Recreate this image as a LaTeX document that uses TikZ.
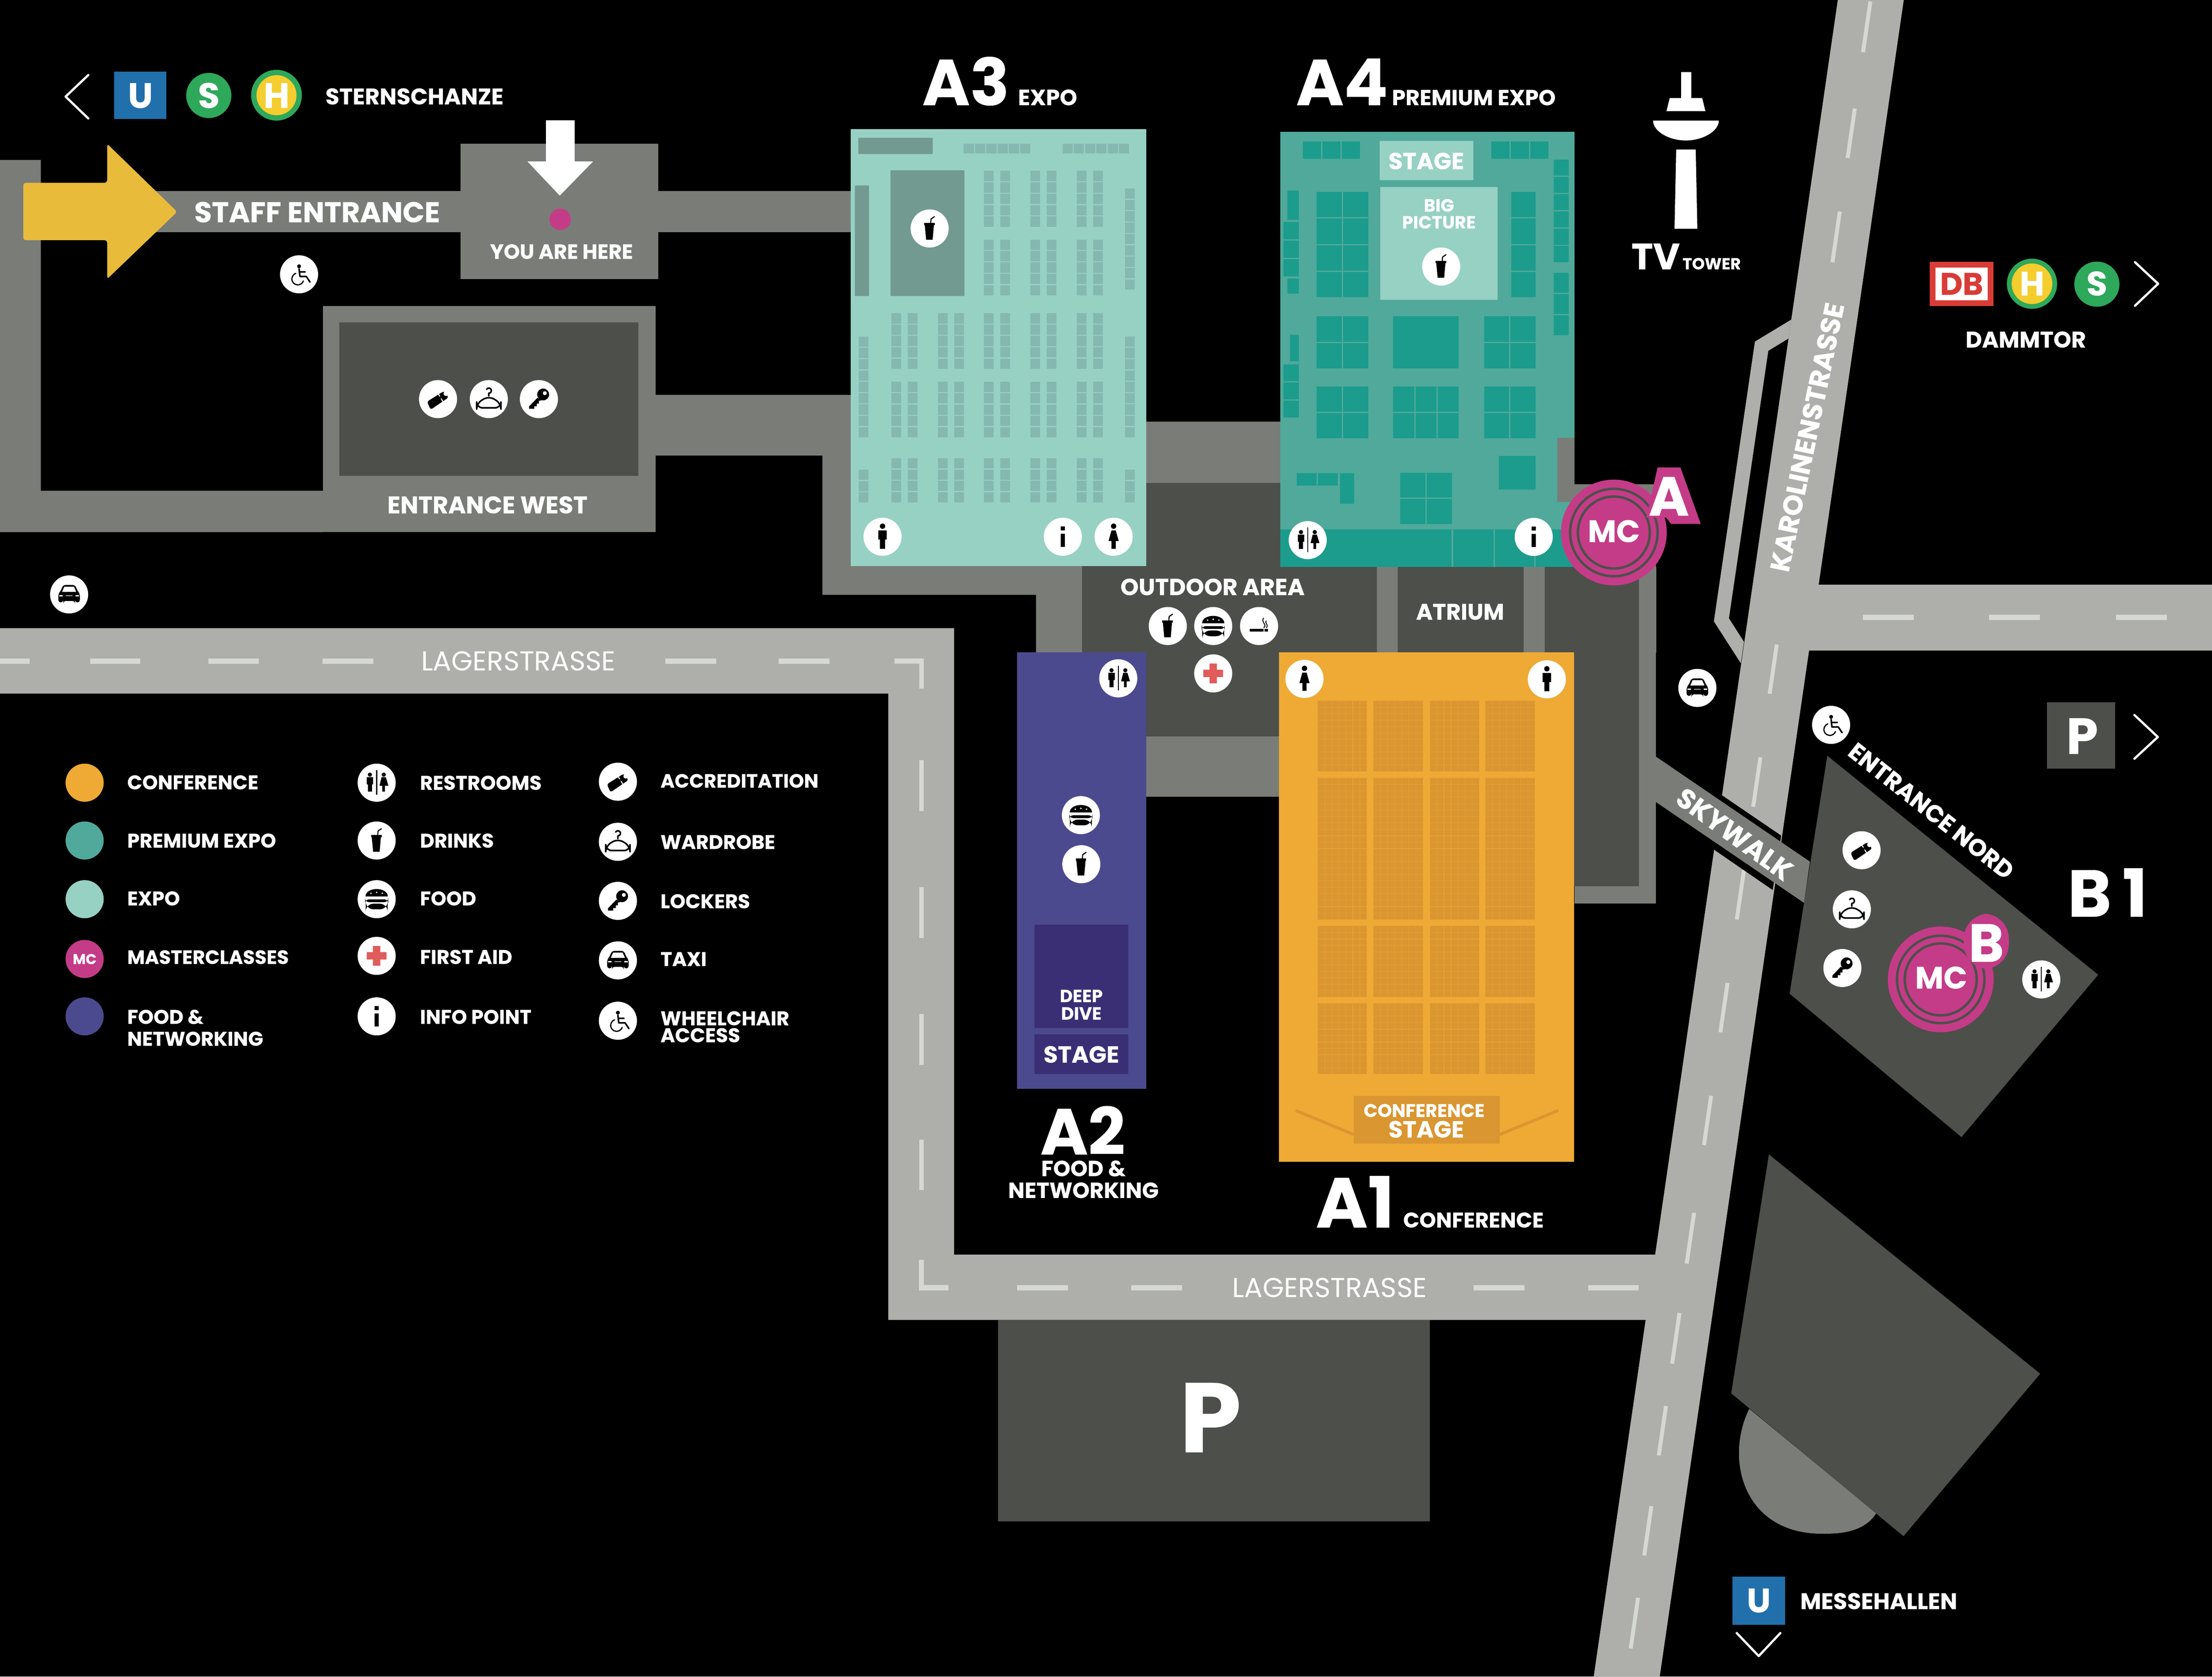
\documentclass[tikz,border=0pt]{standalone}
\usepackage{fontspec}
\setmainfont{Poppins}[BoldFeatures={FakeBold=0.3}]
\usetikzlibrary{positioning}
\definecolor{corridor}{HTML}{7A7C78}
\definecolor{hall}{HTML}{4D4F4B}
\definecolor{roadgray}{HTML}{AEAFAA}
\definecolor{roadline}{HTML}{D6D8D2}
\definecolor{confcol}{HTML}{EEAA35}
\definecolor{confdark}{HTML}{DA9630}
\definecolor{premcol}{HTML}{50A99A}
\definecolor{premdark}{HTML}{1C9C8C}
\definecolor{expocol}{HTML}{96D1C4}
\definecolor{expostand}{HTML}{85B9B0}
\definecolor{expodark}{HTML}{729A90}
\definecolor{foodcol}{HTML}{4C4A8E}
\definecolor{fooddark}{HTML}{3A2F75}
\definecolor{mccol}{HTML}{C43C87}
\definecolor{ubahn}{HTML}{2170AB}
\definecolor{sbahn}{HTML}{2EA85A}
\definecolor{hbahn}{HTML}{F5CD2E}
\definecolor{arrowcol}{HTML}{E8BB3B}
\definecolor{crosscol}{HTML}{E05C5A}
\definecolor{dbred}{HTML}{D93C36}
\newcommand{\pxf}[1]{\fontsize{\fpeval{#1*0.2845}}{\fpeval{#1*0.2845}}\selectfont}
% one block of stands, cut in cells
\newcommand{\cells}[7]{%
  \pgfmathsetmacro\cellw{#4/#6}\pgfmathsetmacro\cellh{#5/#7}
  \foreach \i in {1,...,#6}{\foreach \j in {1,...,#7}{
    \draw[#1] ({#2+(\i-1)*\cellw},{#3+(\j-1)*\cellh}) rectangle +(\cellw,\cellh);}}}
\tikzset{
  lbl/.style={text=white,inner sep=0pt,font=\bfseries\pxf{#1},anchor=base},
  lblw/.style={lbl=#1,anchor=base west},
  expocell/.style={fill=expostand,draw=expocol,line width=0.2pt},
  premcell/.style={fill=premdark,draw=premcol,line width=0.25pt},
  seatcell/.style={fill=confdark,draw=confcol!60!confdark,line width=0.1pt},
  chevron/.style={draw=white,line width=0.45pt,line cap=round,line join=round},
  rdash/.style={draw=roadline,line width=0.8pt},
  disc/.style={fill=white},
  ink/.style={fill=black},
  inkline/.style={draw=black,line width=0.22pt,line cap=round,line join=round},
  pics/manwc/.style={code={\fill[disc] (0,0) circle (13.5);
    \fill[ink] (0,-7.5) circle (1.9);
    \fill[ink] (-3,-4.5) -- (3,-4.5) -- (3,2) -- (1.8,2) -- (1.8,8.5) -- (-1.8,8.5) -- (-1.8,2) -- (-3,2) -- cycle;}},
  pics/womanwc/.style={code={\fill[disc] (0,0) circle (13.5);
    \fill[ink] (0,-7.5) circle (1.9);
    \fill[ink] (-1.5,-4.5) -- (1.5,-4.5) -- (3.6,3) -- (1.5,3) -- (1.5,8.5) -- (-1.5,8.5) -- (-1.5,3) -- (-3.6,3) -- cycle;}},
  pics/restroom/.style={code={\fill[disc] (0,0) circle (13.5);
    \fill[ink] (-4.8,-5.7) circle (1.5);
    \fill[ink] (-7,-3.9) -- (-2.5,-3.9) -- (-2.5,1.2) -- (-3.3,1.2) -- (-3.3,6.3) -- (-6.2,6.3) -- (-6.2,1.2) -- (-7,1.2) -- cycle;
    \draw[inkline] (0,-8.7) -- (0,8.3);
    \fill[ink] (5,-5.7) circle (1.5);
    \fill[ink] (3.5,-3.9) -- (6.5,-3.9) -- (8.3,2.1) -- (5.9,2.1) -- (5.9,6.3) -- (4,6.3) -- (4,2.1) -- (2,2.1) -- cycle;}},
  pics/drinks/.style={code={\fill[disc] (0,0) circle (13.5);
    \fill[ink] (-3.9,-4) rectangle (3.5,-2.5);
    \fill[ink] (-3.5,-2.5) -- (3,-2.5) -- (2.1,8) -- (-2.5,8) -- cycle;
    \draw[inkline] (0.75,-4) -- (1,-6.8) -- (3.4,-8.4);}},
  pics/food/.style={code={\fill[disc] (0,0) circle (13.5);
    \fill[ink] (-7.9,-1.9) .. controls (-7.9,-5.6) and (-3.5,-7.2) .. (0,-7.2) .. controls (3.5,-7.2) and (7.9,-5.6) .. (7.9,-1.9) -- cycle;
    \fill[disc] (-4,-4.2) circle (0.6) (0,-4.8) circle (0.6) (4,-4.2) circle (0.6);
    \fill[ink,rounded corners=0.8] (-8.2,0.1) rectangle (8.2,2.1);
    \fill[ink,rounded corners=1.6] (-7.8,3.2) rectangle (7.8,7.2);}},
  pics/firstaid/.style={code={\fill[disc] (0,0) circle (13.5);
    \fill[crosscol] (-2.6,-7) rectangle (2.6,7) (-7,-2.6) rectangle (7,2.6);}},
  pics/info/.style={code={\fill[disc] (0,0) circle (13.5);
    \fill[ink] (-1.5,-7.3) rectangle (1.5,-4.5) (-1.5,-2.1) rectangle (1.5,7.2);}},
  pics/accred/.style={code={\fill[disc] (0,0) circle (13.5);
    \fill[ink,rounded corners=0.4] (-7.8,1.8) -- (4.2,-5.7) -- (7.5,-1.2) -- (-5.25,7.5) -- cycle;
    \fill[disc] (5.6,-3.9) circle (1.7);
    \draw[disc,draw=white,line width=0.2pt,dashed,dash pattern=on 0.7pt off 0.5pt] (0,-4) -- (3.6,1.9);}},
  pics/wardrobe/.style={code={\fill[disc] (0,0) circle (13.5);
    \draw[inkline,line width=0.32pt,rounded corners=1.2] (0,-2.2) -- (8.6,2.9) -- (8.6,6.2) -- (-8.6,6.2) -- (-8.6,2.9) -- cycle;
    \draw[inkline,line width=0.32pt] (0,-2.2) -- (0,-4.2) arc[start angle=90,end angle=-150,radius=1.8];}},
  pics/lockers/.style={code={\fill[disc] (0,0) circle (13.5);
    \fill[ink] (3,-3.3) circle (4.2);
    \fill[ink] (-7,5.25) -- (-1,-1) -- (1.8,0.9) -- (0,1.2) -- (0,3.15) -- (-1.5,3.15) -- (-1.5,5.1) -- (-3.3,5.1) -- (-3.3,6.9) -- (-7,6.9) -- cycle;
    \fill[disc] (4.2,-4.2) circle (1.4);}},
  pics/taxi/.style={code={\fill[disc] (0,0) circle (13.5);
    \fill[ink,rounded corners=0.5] (-4.2,-6.75) -- (4.2,-6.75) -- (6.2,-2) -- (7.65,-0.5) -- (7.65,5.7) -- (4.2,5.7) -- (4.2,4.6) -- (-4.2,4.6) -- (-4.2,5.7) -- (-7.65,5.7) -- (-7.65,-0.5) -- (-6.2,-2) -- cycle;
    \fill[disc] (-3.4,-5.5) -- (3.4,-5.5) -- (5,-1.8) -- (-5,-1.8) -- cycle;
    \fill[disc] (-7,0.5) rectangle (-4.5,1.4) (4.5,0.5) rectangle (7,1.4) (-2.4,0.7) rectangle (2.4,1.1);}},
  pics/wheelchair/.style={code={\fill[disc] (0,0) circle (13.5);
    \fill[ink] (0,-5.7) circle (1.4);
    \draw[inkline,line width=0.32pt] (0,-3.9) -- (0.6,1.5) -- (5.1,1.5) -- (7.8,5.55) (0.2,-1.7) -- (4.35,-1.7);
    \draw[inkline,line width=0.25pt] (-2.34,-0.65) arc[start angle=-110,end angle=-340,radius=4.2];}},
  pics/smoking/.style={code={\fill[disc] (0,0) circle (13.5);
    \fill[ink] (-6.6,2.1) rectangle (3.2,3.9) (3.9,2.1) rectangle (6.3,3.9);
    \draw[inkline,line width=0.18pt] (3.4,1.2) .. controls (6,-1) and (1,-3) .. (3.2,-5.6);
    \draw[inkline,line width=0.18pt] (5.2,1.2) .. controls (7.2,-1) and (3.6,-2.2) .. (5,-3.6);}},
}
\begin{document}
\begin{tikzpicture}[x=0.01cm,y=-0.01cm]
\fill[black] (0,0) rectangle (1568,1188.9);
\useasboundingbox (0,0) rectangle (1568,1188.9);
% roads
\fill[roadgray] (0,445.4) -- (676.3,445.4) -- (676.3,889.6) -- (1190,889.6) -- (1190,936) -- (629.7,936) -- (629.7,491.8) -- (0,491.8) -- cycle;
\fill[roadgray] (1270,414.7) rectangle (1568,461.2);
\fill[roadgray] (1269.8,226.6) -- (1244,242.2) -- (1214.9,440.6) -- (1234,470.3) -- cycle;
\fill[black] (1267.9,240) -- (1253.5,248.8) -- (1225.6,438.4) -- (1236.4,455.3) -- cycle;
\fill[roadgray] (1302.75,0) -- (1349.5,0) -- (1176.5,1189) -- (1129.7,1189) -- cycle;
% road markings
\foreach \x/\xx in {0/21,64/99.5,147.6/183.6,228.6/264.6,471.6/507.6,552/588}
  \fill[roadline] (\x,466.9) rectangle (\xx,470.6);
\fill[roadline] (634,466.9) -- (654.8,466.9) -- (654.8,488.3) -- (651.6,488.3) -- (651.6,470.6) -- (634,470.6) -- cycle;
\foreach \y in {539,629,719,808}
  \fill[roadline] (651.6,\y) rectangle (654.8,\y+36);
\fill[roadline] (651.4,893.3) -- (654.9,893.3) -- (654.9,911.2) -- (672.3,911.2) -- (672.3,915) -- (651.4,915) -- cycle;
\foreach \x in {721,802,1044.7,1125.7}
  \fill[roadline] (\x,911.2) rectangle (\x+36,915);
\foreach \x in {1320.5,1409.9,1499.9}
  \fill[roadline] (\x,435.8) rectangle (\x+36,439.6);
\foreach \y/\yy in {1/37,77/112,150/186,457/492,537/572,617/652,697/732,777/812,860/896,931/967,997/1032,1068/1103,1133/1169}
  \draw[rdash] ({1326-0.1455*\y},\y) -- ({1326-0.1455*\yy},\yy);
% skywalk
\fill[black] (1220.6,563.9) -- (1262.6,592.5) -- (1256.6,631.1) -- (1214.6,602.2) -- cycle;
\fill[corridor] (1173.8,536.5) -- (1283,611) -- (1278.8,640.2) -- (1173.8,568.7) -- cycle;
% corridors
\fill[corridor] (0,113.4) rectangle (29,377.4) (0,348) rectangle (229,377.4);
\fill[corridor] (29,135.4) rectangle (604,164.5);
\fill[corridor] (326.6,102) rectangle (466.5,198);
\fill[corridor] (228.8,217) rectangle (464.6,377.4);
\fill[corridor] (464,280) rectangle (604,323) (583,280) rectangle (604,421.7);
\fill[corridor] (583,400) rectangle (767,421.7) (734.4,400) rectangle (767,463);
\fill[corridor] (812,299) rectangle (908,343) (812,522) rectangle (907,565);
\fill[corridor] (975,402) rectangle (1174,463);
\fill[corridor] (1116,343.5) rectangle (1173.8,640.6);
% halls
\fill[hall] (240.4,228.6) rectangle (452.6,337.5);
\fill[hall] (767,401) rectangle (976,463) (812,342.5) rectangle (908,402) (812,462) rectangle (907,522);
\fill[hall] (990.8,402) rectangle (1080,463) (1095,402) rectangle (1161.8,628.5) (1116,357) rectangle (1161.8,402);
\fill[hall] (1295.3,535.9) -- (1487.3,691.2) -- (1390.4,806.3) -- (1268.6,704.6) -- cycle;
\fill[hall] (707.6,936) rectangle (1013.7,1078.8);
\fill[corridor] (1240,999) .. controls (1222,1035) and (1236,1090) .. (1295.6,1087.5) .. controls (1315,1087.5) and (1325,1081) .. (1330,1073) -- cycle;
\fill[hall] (1253.9,818.6) -- (1446.2,974.1) -- (1349.3,1089.3) -- (1227.2,988) -- cycle;
% A3 expo
\fill[expocol] (603.2,91.6) rectangle (812.4,401.3);
\fill[expodark] (608.4,97.7) rectangle (661.2,109.2) (606,131.5) rectangle (616,209.9) (631.2,120.8) rectangle (683.6,209.9);
\cells{expocell}{682.8}{101.6}{48}{7.4}{6}{1}
\cells{expocell}{752.8}{101.6}{48}{7.4}{6}{1}
\foreach \x in {697.2,708.8,730,741.6,762.8,774.4}{
  \cells{expocell}{\x}{120.8}{7.6}{40.4}{1}{5}
  \cells{expocell}{\x}{169.5}{7.6}{40.4}{1}{5}}
\foreach \x in {631.6,643.2,664.4,676,697.2,708.8,730,741.6,762.8,774.4}{
  \cells{expocell}{\x}{221.7}{7.6}{40.2}{1}{5}
  \cells{expocell}{\x}{270.4}{7.6}{40.1}{1}{5}
  \cells{expocell}{\x}{324.6}{7.6}{31.9}{1}{4}}
\cells{expocell}{797.2}{133.2}{7.6}{72.6}{1}{9}
\foreach \x in {608.4,797.2}{
  \cells{expocell}{\x}{238.2}{7.6}{72.3}{1}{9}
  \cells{expocell}{\x}{332.8}{7.6}{23.7}{1}{3}}
% A4 premium expo
\fill[premcol] (907.6,93.3) rectangle (1116,402);
\cells{premcell}{923.2}{99.9}{41.2}{13.2}{3}{1}
\cells{premcell}{1056.8}{99.9}{41.2}{13.2}{3}{1}
\fill[expocol] (978,99.9) rectangle (1044.4,127.7) (978.4,132.6) rectangle (1061.6,212.6);
\cells{premcell}{932.8}{135.6}{37.6}{75.7}{2}{4}
\cells{premcell}{1070.8}{135.6}{18}{75.7}{1}{4}
\cells{premcell}{1100.8}{112.6}{11.6}{73.7}{1}{6}
\cells{premcell}{1100.8}{193.1}{11.6}{45.1}{1}{3}
\cells{premcell}{912}{134.6}{9.2}{21.7}{1}{1}
\cells{premcell}{909.2}{157}{12}{39.4}{1}{3}
\cells{premcell}{912}{197}{9.2}{11.5}{1}{1}
\cells{premcell}{914}{236.8}{7.2}{19.9}{1}{1}
\cells{premcell}{909.2}{257.8}{12}{38.7}{1}{3}
\cells{premcell}{932.8}{223.9}{37.6}{37.7}{2}{2}
\cells{premcell}{987.2}{223.9}{47.2}{37.7}{1}{1}
\cells{premcell}{1051.6}{223.9}{37.2}{37.7}{2}{2}
\cells{premcell}{932.8}{273.7}{37.6}{37.4}{2}{2}
\cells{premcell}{987.2}{273.7}{47.2}{37.4}{3}{2}
\cells{premcell}{1051.6}{273.7}{37.2}{37.4}{2}{2}
\cells{premcell}{1062}{322.9}{26.8}{24.8}{1}{1}
\cells{premcell}{992}{334.8}{37.6}{37.1}{2}{2}
\cells{premcell}{918.8}{335}{30}{9.7}{2}{1}
\cells{premcell}{949.6}{335}{10.8}{22.6}{1}{1}
\fill[premdark] (907.6,375.5) rectangle (1116,402);
\draw[premcol,line width=0.3pt] (1029.6,375.5) -- (1029.6,402) (1059.2,375.5) -- (1059.2,402) (1088,375.5) -- (1088,402);
\fill[corridor] (1104,310.5) rectangle (1116,356);
% A2 food and networking
\fill[foodcol] (721,462.5) rectangle (812.4,772);
\fill[fooddark] (733.3,655.7) rectangle (799.8,729) (733.3,733.4) rectangle (799.8,761.6);
% A1 conference
\fill[confcol] (906.5,462.5) rectangle (1115.8,823.7);
\foreach \x in {934,973.7,1013.6,1053}{
  \cells{seatcell}{\x}{497}{35}{50}{7}{11}
  \cells{seatcell}{\x}{551.6}{35}{100.4}{7}{22}
  \cells{seatcell}{\x}{656.6}{35}{50.4}{7}{11}
  \cells{seatcell}{\x}{711.5}{35}{50.1}{7}{11}}
\draw[confdark,line width=0.6pt] (918.4,787.4) -- (959.7,804.5) (1063,804.5) -- (1104.6,787.4);
\fill[confdark] (959.7,777) rectangle (1063,811);
% arrows and dot
\fill[arrowcol,rounded corners=0.5] (16.5,129.6) -- (76,129.6) -- (76,102) -- (125.6,150.2) -- (76,197.8) -- (76,170.3) -- (16.5,170.3) -- cycle;
\fill[white] (387,85.3) -- (407.3,85.3) -- (407.3,114.5) -- (420.4,114.5) -- (396.8,138.7) -- (373.9,114.5) -- (387,114.5) -- cycle;
\fill[mccol] (397.1,155.5) circle (7.6);
% stations
\draw[chevron] (62.6,53.2) -- (46.5,68.5) -- (62.6,84);
\fill[ubahn] (81,50.7) rectangle (118,84.5);
\node (uleft) [lbl=25] at (99.5,76.5) {U};
\fill[sbahn] (148,67.7) circle (16);
\node (sleft) [lbl=25] at (148,76.5) {S};
\fill[sbahn] (196,67.5) circle (18);
\fill[hbahn] (196,67.5) circle (14.2);
\node (hleft) [lbl=25] at (196,76.5) {H};
\node (sternschanze) [lblw=16] at (230,74) {STERNSCHANZE};
\fill[dbred] (1368,185.6) rectangle (1413,217);
\fill[white] (1372,189.8) rectangle (1409,213);
\node (dbmark) [lbl=22,text=dbred] at (1390.5,209) {DB};
\fill[sbahn] (1440.4,201.2) circle (17.8);
\fill[hbahn] (1440.4,201.2) circle (14.4);
\node (hright) [lbl=24] at (1440.4,209.5) {H};
\fill[sbahn] (1486.4,201.5) circle (16);
\node (sright) [lbl=24] at (1486.4,209.5) {S};
\draw[chevron] (1513.4,185.9) -- (1529.8,201.2) -- (1513.4,216.8);
\node (dammtor) [lbl=16] at (1436,246.4) {DAMMTOR};
\fill[ubahn] (1228,1118) rectangle (1265.3,1152);
\node (uright) [lbl=24] at (1246.7,1143.3) {U};
\node (messehallen) [lblw=16] at (1275.5,1141) {MESSEHALLEN};
\draw[chevron] (1231.1,1158) -- (1246.7,1174.3) -- (1262,1158);
% parking
\fill[hall] (1451,497.9) rectangle (1499.3,545);
\node (pnorth) [lbl=36] at (1476,534.6) {P};
\draw[chevron] (1513,507) -- (1529.6,522.6) -- (1513,538);
\node (psouth) [lbl=70] at (858,1029.8) {P};
% tv tower
\fill[white] (1191.7,51) rectangle (1198.9,69.5);
\fill[white] (1183.6,69.5) -- (1206.6,69.5) -- (1208.9,78.8) -- (1181.3,78.8) -- cycle;
\fill[white] (1171.8,85.5) -- (1218.4,85.5) .. controls (1218.4,93) and (1207,99.6) .. (1195,99.6) .. controls (1183,99.6) and (1171.8,93) .. (1171.8,85.5) -- cycle;
\fill[white] (1188.2,106) -- (1202,106) -- (1203.2,162.2) -- (1187,162.2) -- cycle;
\node (tvbig) [lblw=26] at (1155.7,191) {TV};
\node (tvsmall) [lblw=11.4] at (1192,191) {TOWER};
% hall titles
\node (a3big) [lblw=46] at (653,74.6) {A3};
\node (a3small) [lblw=15.7] at (721,74.6) {EXPO};
\node (a4big) [lblw=46] at (918,74.6) {A4};
\node (a4small) [lblw=15.4] at (986,74.6) {PREMIUM EXPO};
\node (a2big) [lbl=46] at (767.5,818.6) {A2};
\node (a2line) [lbl=15.5] at (768,834) {FOOD \&};
\node (a2lineb) [lbl=15.5] at (768,849.5) {NETWORKING};
\node (a1big) [lblw=50] at (932,870.4) {A1};
\node (a1small) [lblw=15] at (994,870.4) {CONFERENCE};
\node (b1big) [lblw=47] at (1465,650) {B\,1};
% labels on the map
\node (staff) [lblw=20.3] at (137,157.6) {STAFF ENTRANCE};
\node (here) [lbl=14.5] at (398,183.5) {YOU ARE HERE};
\node (west) [lbl=17] at (345.5,364) {ENTRANCE WEST};
\node (outdoor) [lbl=16.5] at (859.5,422) {OUTDOOR AREA};
\node (atrium) [lbl=16] at (1035,439.4) {ATRIUM};
\node (stagea) [lbl=16.5] at (1011,120) {STAGE};
\node (big) [lbl=12.5] at (1020,150) {BIG};
\node (picture) [lbl=12.5] at (1020,162) {PICTURE};
\node (deep) [lbl=12.5] at (766.5,710.6) {DEEP};
\node (dive) [lbl=12.5] at (766.5,723) {DIVE};
\node (stageb) [lbl=16.5] at (766.5,753.5) {STAGE};
\node (confstage) [lbl=12.9] at (1009.5,792) {CONFERENCE};
\node (stagec) [lbl=16.5] at (1011,806.6) {STAGE};
\node (lagerw) [lbl=20,font=\pxf{19.4}\mdseries,text=white] at (367.5,475.5) {LAGERSTRASSE};
\node (lagers) [lbl=20,font=\pxf{19.4}\mdseries,text=white] at (942.5,920) {LAGERSTRASSE};
\node (karolinen) [text=white,inner sep=0pt,font=\bfseries\pxf{19.3},rotate=78.2] at (1281,310) {KAROLINENSTRASSE};
\node (skywalk) [text=white,inner sep=0pt,font=\bfseries\pxf{19.5},rotate=-36] at (1229.6,591.5) {SKYWALK};
\node (nord) [text=white,inner sep=0pt,font=\bfseries\pxf{17},rotate=-38.4] at (1369,575) {ENTRANCE NORD};
% masterclass rooms
\fill[mccol] (1144,377.6) circle (37.5);
\draw[hall,line width=0.5pt] (1144,377.6) circle (31) (1144,377.6) circle (25.5);
\fill[mccol,line join=round] (1175,331.5) -- (1191.2,331.5) -- (1205.6,371.5) -- (1184.6,371.5) -- (1181,367) -- (1167,367) -- cycle;
\node (mca) [lbl=22] at (1144,384.4) {MC};
\node (roomA) [lbl=39] at (1183,365.6) {A};
\fill[mccol] (1375.7,694.5) circle (37.5);
\draw[hall,line width=0.5pt] (1375.7,694.5) circle (31) (1375.7,694.5) circle (25.5);
\fill[mccol,rounded corners=5] (1392,648) -- (1424,648) -- (1424,687) -- (1392,687) -- cycle;
\node (mcb) [lbl=22] at (1376,701) {MC};
\node (roomB) [lbl=38] at (1408,682) {B};
% icons on the map
\pic (wc1) at (212,194.5) {wheelchair};
\pic (wc2) at (1298,514) {wheelchair};
\pic (taxi1) at (49,421.5) {taxi};
\pic (taxi2) at (1203.2,487.8) {taxi};
\pic (acc1) at (310.5,283) {accred};
\pic (war1) at (346.5,283) {wardrobe};
\pic (loc1) at (382,283) {lockers};
\pic (acc2) at (1319.6,602.9) {accred};
\pic (war2) at (1312.7,644.8) {wardrobe};
\pic (loc2) at (1306,686.4) {lockers};
\pic (drink1) at (659,162) {drinks};
\pic (drink2) at (1021.6,189) {drinks};
\pic (drink3) at (827.8,443.9) {drinks};
\pic (drink4) at (766.5,612.8) {drinks};
\pic (food1) at (860,443.9) {food};
\pic (food2) at (766.2,578) {food};
\pic (smoke1) at (892.5,443.9) {smoking};
\pic (aid1) at (860,477.5) {firstaid};
\pic (man1) at (625.6,380.6) {manwc};
\pic (man2) at (1096.5,481.7) {manwc};
\pic (woman1) at (789.4,380.6) {womanwc};
\pic (woman2) at (924.7,481.4) {womanwc};
\pic (info1) at (753.4,380.6) {info};
\pic (info2) at (1087.2,380.7) {info};
\pic (rest1) at (927,383) {restroom};
\pic (rest2) at (792.7,481) {restroom};
\pic (rest3) at (1447,694.5) {restroom};
% legend
\fill[confcol] (60,555) circle (13.5);
\fill[premcol] (60,596) circle (13.5);
\fill[expocol] (60,637.6) circle (13.5);
\fill[mccol] (60,680) circle (13.5);
\fill[foodcol] (60,720.7) circle (13.5);
\node (legmc) [lbl=10] at (60,683.6) {MC};
\node (leg1) [lblw=14] at (89.5,559.7) {CONFERENCE};
\node (leg2) [lblw=14] at (89.5,601) {PREMIUM EXPO};
\node (leg3) [lblw=14] at (89.5,642) {EXPO};
\node (leg4) [lblw=13.6] at (89.5,683.5) {MASTERCLASSES};
\node (leg5) [lblw=14] at (89.5,726) {FOOD \&};
\node (leg5b) [lblw=14] at (89.5,741.5) {NETWORKING};
\pic (legrest) at (267,555) {restroom};
\pic (legdrink) at (267,596) {drinks};
\pic (legfood) at (267,637.6) {food};
\pic (legaid) at (267,677.8) {firstaid};
\pic (leginfo) at (267,720.7) {info};
\node (leg6) [lblw=14] at (297,560) {RESTROOMS};
\node (leg7) [lblw=14] at (297,601) {DRINKS};
\node (leg8) [lblw=14] at (297,642) {FOOD};
\node (leg9) [lblw=14] at (297,683.5) {FIRST AID};
\node (leg10) [lblw=14] at (297,726) {INFO POINT};
\pic (legacc) at (438,554.3) {accred};
\pic (legwar) at (438,596.9) {wardrobe};
\pic (legloc) at (438,638.8) {lockers};
\pic (legtaxi) at (438,681) {taxi};
\pic (legwc) at (438,723.8) {wheelchair};
\node (leg11) [lblw=13.6] at (467.5,558.5) {ACCREDITATION};
\node (leg12) [lblw=14] at (467.5,602) {WARDROBE};
\node (leg13) [lblw=14] at (467.5,644) {LOCKERS};
\node (leg14) [lblw=14] at (467.5,685) {TAXI};
\node (leg15) [lblw=14] at (467.5,727) {WHEELCHAIR};
\node (leg15b) [lblw=14] at (467.5,739) {ACCESS};
\end{tikzpicture}
\end{document}
